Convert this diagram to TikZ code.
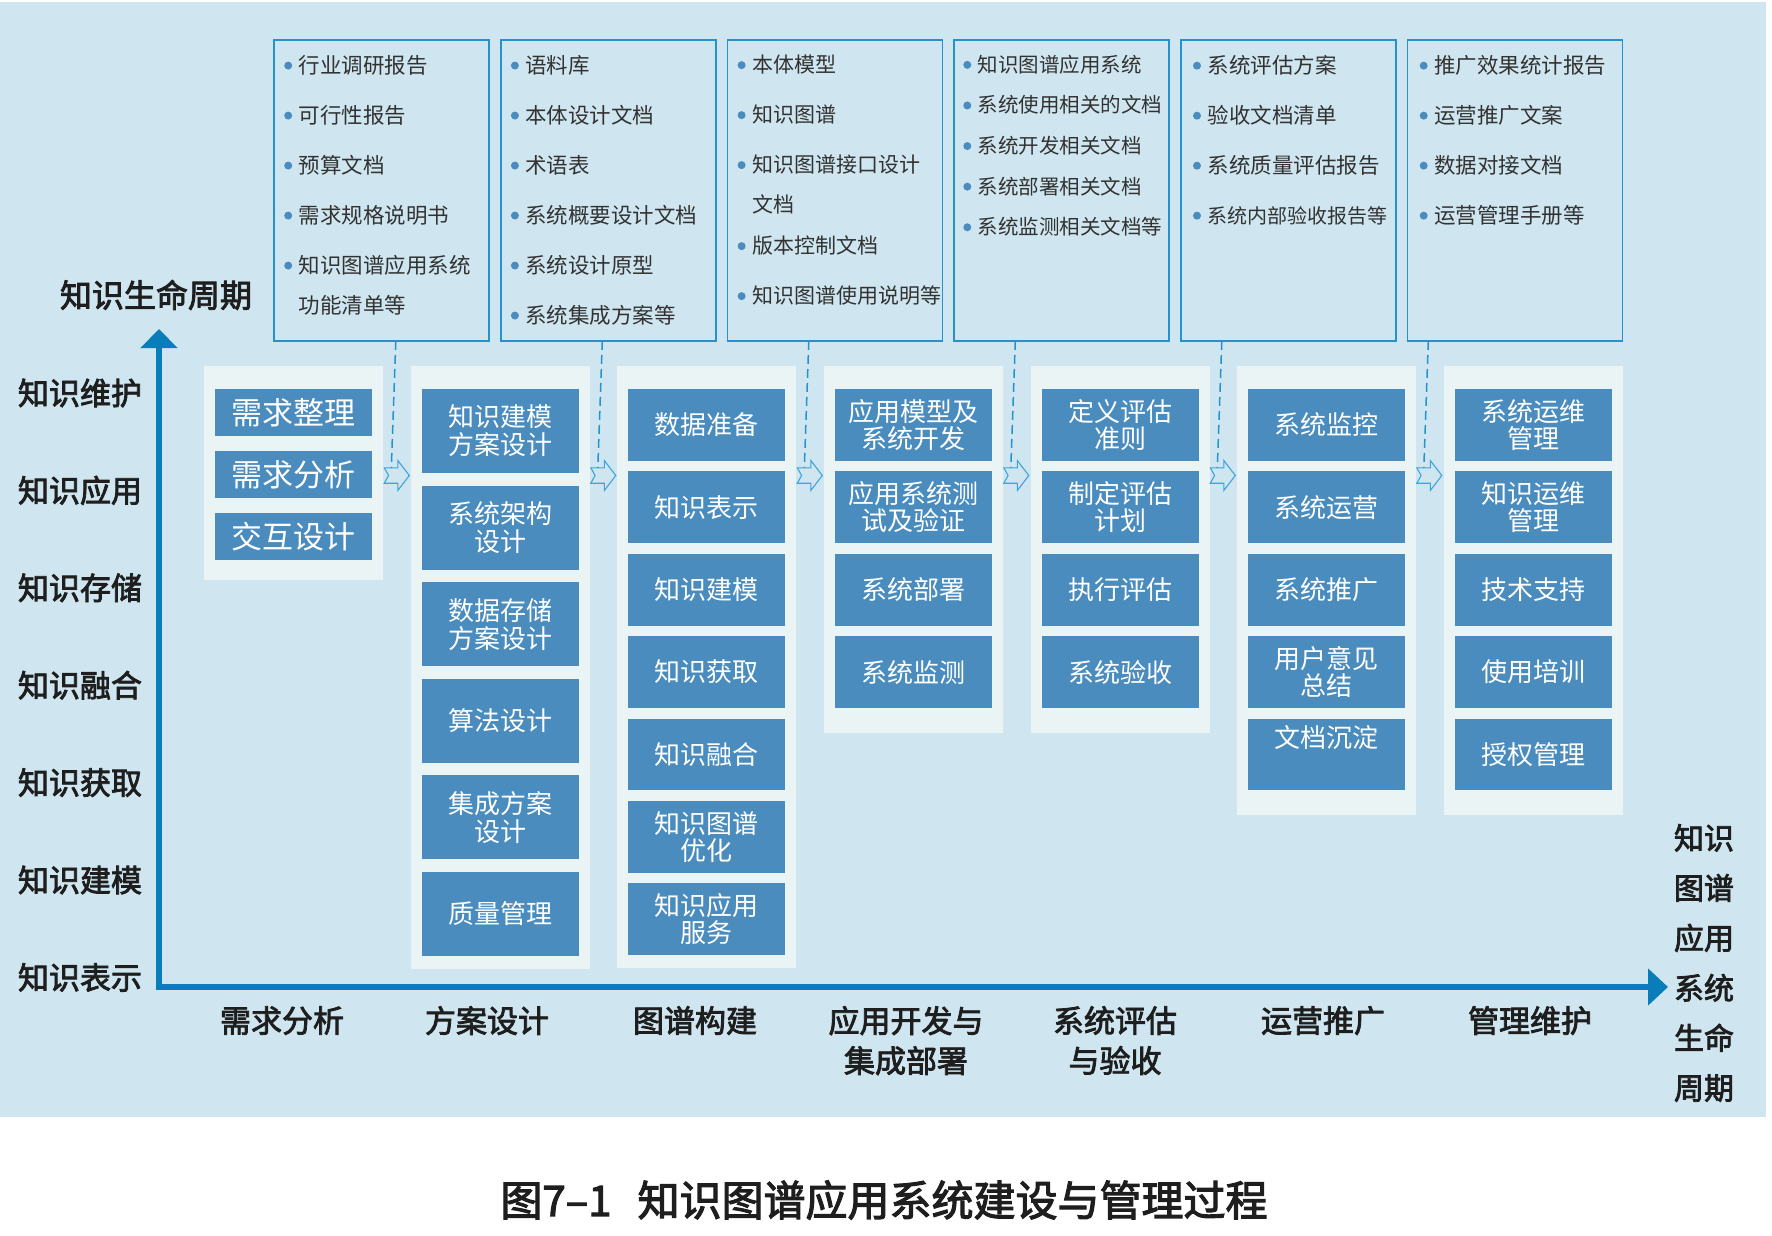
\documentclass[tikz,border=0pt]{standalone}
\usepackage{fontspec}
\usepackage{xcolor}
\usepackage{tikz}
\usetikzlibrary{arrows.meta,positioning,fit,backgrounds}

\newfontfamily\cjk{Noto Sans CJK SC}
\newfontfamily\cjkmid{Noto Sans CJK SC}[FakeBold=2.6]

\definecolor{bgblue}{RGB}{207,230,240}
\definecolor{panelbg}{RGB}{234,244,245}
\definecolor{boxblue}{RGB}{74,140,190}
\definecolor{axisblue}{RGB}{8,125,186}
\definecolor{frameblue}{RGB}{36,146,206}
\definecolor{arrowblue}{RGB}{61,165,220}
\definecolor{txtgray}{RGB}{50,50,50}
\definecolor{labblack}{RGB}{30,30,30}

\newcommand{\docdot}{\tikz[baseline=-7.5pt]\fill[boxblue] (0,0) circle (4pt);\hspace{6.5pt}}
\newcommand{\docindent}{\hspace{14.5pt}}

\begin{document}
\begin{tikzpicture}[
    x=1pt, y=-1pt,
    docbox/.style={rectangle, draw=frameblue, line width=1.6pt, outer sep=0pt, inner sep=0pt, minimum width=215pt, minimum height=300.7pt},
    doclist/.style={anchor=north west, align=left, inner sep=0pt, text=txtgray, font=\cjk\fontsize{21.5}{50}\selectfont},
    task/.style={rectangle, fill=boxblue, text=white, outer sep=0pt, inner sep=0pt, minimum width=157pt, align=center, font=\cjk\fontsize{26}{27}\selectfont},
    taskA/.style={task, minimum height=47pt, font=\cjk\fontsize{31}{31}\selectfont},
    taskB/.style={task, minimum height=84pt, font=\cjk\fontsize{26}{28}\selectfont},
    taskC/.style={task, minimum height=71.7pt},
    panel/.style={fill=panelbg, inner xsep=11pt, inner ysep=0pt},
    axislab/.style={text=labblack, inner sep=0pt, align=center, font=\cjkmid\fontsize{31}{40}\selectfont},
    lifeaxis/.style={axisblue, line width=6pt, line join=miter},
    flowdash/.style={frameblue, line width=1.5pt, dash pattern=on 9pt off 5pt},
    flowarrow/.pic={
        \draw[arrowblue, line width=1.1pt, line join=miter]
            (-12.5,-7.7) -- (1,-7.7) -- (1,-15) -- (12.5,0) -- (1,15) -- (1,7.7) -- (-12.5,7.7) -- (-8.2,0) -- cycle;
        \coordinate (-in) at (-5.5,-7.7);
        \coordinate (-up) at (-1,0);
    }
]
\useasboundingbox (0,0) rectangle (1772,1236);

% documents of each phase
\node[docbox] (doc1) at (381.5,190.65) {};
\node[docbox, right=11.7pt of doc1] (doc2) {};
\node[docbox, right=11.7pt of doc2] (doc3) {};
\node[docbox, right=11.7pt of doc3] (doc4) {};
\node[docbox, right=11.7pt of doc4] (doc5) {};
\node[docbox, right=11.7pt of doc5] (doc6) {};

\node[doclist] (list1) at ([shift={(10pt,-14.5pt)}]doc1.north west) {%
\docdot 行业调研报告\\
\docdot 可行性报告\\
\docdot 预算文档\\
\docdot 需求规格说明书\\
\docdot 知识图谱应用系统\\[-10pt]
\docindent 功能清单等};
\node[doclist] (list2) at ([shift={(10pt,-14.5pt)}]doc2.north west) {%
\docdot 语料库\\
\docdot 本体设计文档\\
\docdot 术语表\\
\docdot 系统概要设计文档\\
\docdot 系统设计原型\\
\docdot 系统集成方案等};
\node[doclist, font=\cjk\fontsize{21}{50}\selectfont] (list3) at ([shift={(10pt,-14.5pt)}]doc3.north west) {%
\docdot 本体模型\\
\docdot 知识图谱\\
\docdot 知识图谱接口设计\\[-10pt]
\docindent 文档\\[-9pt]
\docdot 版本控制文档\\
\docdot 知识图谱使用说明等};
\node[doclist, font=\cjk\fontsize{20.5}{40.6}\selectfont] (list4) at ([shift={(9pt,-14.5pt)}]doc4.north west) {%
\docdot 知识图谱应用系统\\
\docdot 系统使用相关的文档\\
\docdot 系统开发相关文档\\
\docdot 系统部署相关文档\\
\docdot 系统监测相关文档等};
\node[doclist] (list5) at ([shift={(12pt,-14.5pt)}]doc5.north west) {%
\docdot 系统评估方案\\
\docdot 验收文档清单\\
\docdot 系统质量评估报告\\
\docdot {\fontsize{20}{50}\selectfont 系统内部验收报告等}};
\node[doclist] (list6) at ([shift={(12pt,-14.5pt)}]doc6.north west) {%
\docdot 推广效果统计报告\\
\docdot 运营推广文案\\
\docdot 数据对接文档\\
\docdot 运营管理手册等};

% tasks of each phase
\node[taskA, anchor=north] (a1) at (293.7,389) {需求整理};
\node[taskA, below=15pt of a1] (a2) {需求分析};
\node[taskA, below=15pt of a2] (a3) {交互设计};

\node[taskB, anchor=north] (b1) at (500.3,389) {知识建模\\方案设计};
\node[taskB, below=12.6pt of b1] (b2) {系统架构\\设计};
\node[taskB, below=12.6pt of b2] (b3) {数据存储\\方案设计};
\node[taskB, below=12.6pt of b3] (b4) {算法设计};
\node[taskB, below=12.6pt of b4] (b5) {集成方案\\设计};
\node[taskB, below=12.6pt of b5] (b6) {质量管理};

\node[taskC, anchor=north] (c1) at (706.9,389) {数据准备};
\node[taskC, below=10.7pt of c1] (c2) {知识表示};
\node[taskC, below=10.7pt of c2] (c3) {知识建模};
\node[taskC, below=10.7pt of c3] (c4) {知识获取};
\node[taskC, below=10.7pt of c4] (c5) {知识融合};
\node[taskC, below=10.7pt of c5] (c6) {知识图谱\\优化};
\node[taskC, below=10.7pt of c6] (c7) {知识应用\\服务};

\node[taskC, anchor=north] (d1) at (913.5,389) {应用模型及\\系统开发};
\node[taskC, below=10.7pt of d1] (d2) {应用系统测\\试及验证};
\node[taskC, below=10.7pt of d2] (d3) {系统部署};
\node[taskC, below=10.7pt of d3] (d4) {系统监测};

\node[taskC, anchor=north] (e1) at (1120.1,389) {定义评估\\准则};
\node[taskC, below=10.7pt of e1] (e2) {制定评估\\计划};
\node[taskC, below=10.7pt of e2] (e3) {执行评估};
\node[taskC, below=10.7pt of e3] (e4) {系统验收};

\node[taskC, anchor=north] (f1) at (1326.7,389) {系统监控};
\node[taskC, below=10.7pt of f1] (f2) {系统运营};
\node[taskC, below=10.7pt of f2] (f3) {系统推广};
\node[taskC, below=10.7pt of f3] (f4) {用户意见\\总结};
\node[taskC, below=10.7pt of f4] (f5) {\raisebox{7pt}[0pt][0pt]{文档沉淀}};

\node[taskC, anchor=north] (g1) at (1533.3,389) {系统运维\\管理};
\node[taskC, below=10.7pt of g1] (g2) {知识运维\\管理};
\node[taskC, below=10.7pt of g2] (g3) {技术支持};
\node[taskC, below=10.7pt of g3] (g4) {使用培训};
\node[taskC, below=10.7pt of g4] (g5) {授权管理};

\begin{scope}[on background layer]
\fill[bgblue] (0,2) rectangle (1766,1117);
\node[panel, fit={(a1) (a3) ([yshift=23pt]a1.north) ([yshift=-20pt]a3.south)}] (p1) {};
\node[panel, fit={(b1) (b6) ([yshift=23pt]b1.north) ([yshift=-13pt]b6.south)}] (p2) {};
\node[panel, fit={(c1) (c7) ([yshift=23pt]c1.north) ([yshift=-13pt]c7.south)}] (p3) {};
\node[panel, fit={(d1) (d4) ([yshift=23pt]d1.north) ([yshift=-25pt]d4.south)}] (p4) {};
\node[panel, fit={(e1) (e4) ([yshift=23pt]e1.north) ([yshift=-25pt]e4.south)}] (p5) {};
\node[panel, fit={(f1) (f5) ([yshift=23pt]f1.north) ([yshift=-25pt]f5.south)}] (p6) {};
\node[panel, fit={(g1) (g5) ([yshift=23pt]g1.north) ([yshift=-25pt]g5.south)}] (p7) {};
\end{scope}

% documents flow into the next phase
\foreach \i in {1,...,6}
    \pic (arr\i) at ({396.8+206.5*(\i-1)},475.5) {flowarrow};
\foreach \i in {1,...,6}
    \draw[flowdash] (doc\i.south -| arr\i-up) -- (arr\i-in);

% axes
\coordinate (origin) at (159,987);
\coordinate (ytip) at (159,329);
\coordinate (xtip) at (1668,987);
\draw[lifeaxis, {Triangle[length=19pt,width=36pt]}-{Triangle[length=20pt,width=36pt]}] (ytip) -- (origin) -- (xtip);

\node[axislab, font=\cjkmid\fontsize{32}{32}\selectfont] (ytitle) at (156,295) {知识生命周期};
\foreach \lab [count=\i] in {知识维护,知识应用,知识存储,知识融合,知识获取,知识建模,知识表示}
    \node[axislab] (lv\i) at (80,{393+97.4*(\i-1)}) {\lab};

\foreach \x/\lab [count=\i] in {282/需求分析, 487/方案设计, 695/图谱构建, 906/应用开发与\\集成部署, 1115/系统评估\\与验收, 1323/运营推广, 1530/管理维护}
    \node[axislab, anchor=north] (ph\i) at (\x,1006) {\lab};

\node[axislab, font=\cjkmid\fontsize{30}{50}\selectfont] (xtitle) at (1704,963) {知识\\图谱\\应用\\系统\\生命\\周期};

\node[axislab, font=\cjkmid\fontsize{42}{42}\selectfont] (caption) at (884,1200) {图7–1\hspace{26pt}知识图谱应用系统建设与管理过程};
\end{tikzpicture}
\end{document}
